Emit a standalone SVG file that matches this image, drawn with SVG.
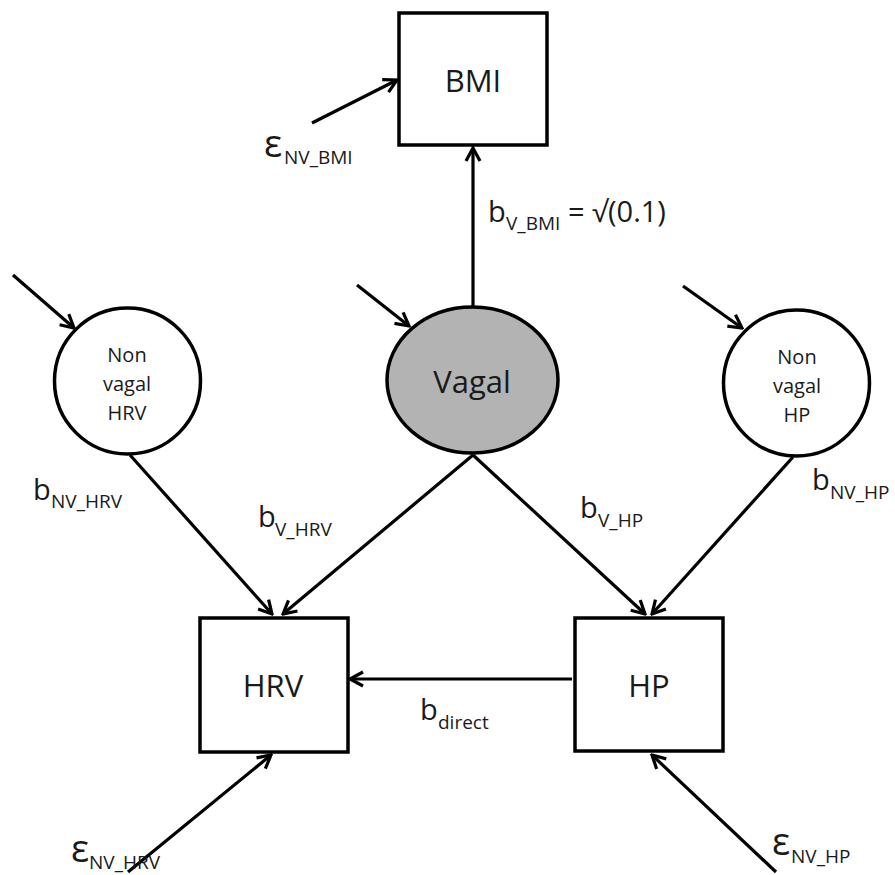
<svg xmlns="http://www.w3.org/2000/svg" width="895" height="875" viewBox="0 0 895 875">
<style>
  .box{fill:#fff;stroke:#000;stroke-width:3.5}
  .circ{fill:#fff;stroke:#000;stroke-width:3.5}
  .vag{fill:#b3b3b3;stroke:#000;stroke-width:3.5}
  .edge{stroke:#000;stroke-width:3.2;fill:none;marker-end:url(#arr)}
  text{font-family:"Open Sans","Noto Sans","Liberation Sans",sans-serif;fill:#1a1a1a}
  .big{font-size:31px}
  .sm{font-size:20px}
  .lbl{font-size:29px}
  .sub{font-size:19px}
  .eps{font-size:38px}
</style>
<defs>
  <marker id="arr" viewBox="0 0 18 18" refX="16" refY="9" markerWidth="18" markerHeight="18" markerUnits="userSpaceOnUse" orient="auto">
    <path d="M3,2 L16,9 L3,16" fill="none" stroke="#000" stroke-width="3.2"/>
  </marker>
</defs>
<g id="connectors">
  <line class="edge" x1="312" y1="123" x2="397" y2="80"/>
  <line class="edge" x1="473" y1="307" x2="473" y2="148"/>
  <line class="edge" x1="13" y1="275" x2="74" y2="328"/>
  <line class="edge" x1="357" y1="285" x2="409" y2="326"/>
  <line class="edge" x1="683" y1="286" x2="742" y2="328"/>
  <line class="edge" x1="130" y1="455" x2="272" y2="614"/>
  <line class="edge" x1="473" y1="455" x2="283" y2="614"/>
  <line class="edge" x1="473" y1="455" x2="645" y2="614"/>
  <line class="edge" x1="793" y1="457" x2="652" y2="614"/>
  <line class="edge" x1="572" y1="679" x2="350" y2="679"/>
  <line class="edge" x1="128" y1="872" x2="271" y2="755"/>
  <line class="edge" x1="776" y1="872" x2="652" y2="755"/>
</g>
<g id="BMI">
  <rect class="box" x="399" y="13" width="148" height="132"/>
  <text class="big" x="473" y="92" text-anchor="middle">BMI</text>
</g>
<g id="Vagal">
  <ellipse class="vag" cx="472.5" cy="380" rx="85.5" ry="73"/>
  <text class="big" x="472" y="393" text-anchor="middle">Vagal</text>
</g>
<g id="NonVagalHRV">
  <circle class="circ" cx="127.5" cy="381" r="73"/>
  <text class="sm" x="127" y="362" text-anchor="middle">Non</text>
  <text class="sm" x="127" y="391" text-anchor="middle">vagal</text>
  <text class="sm" x="127" y="420" text-anchor="middle">HRV</text>
</g>
<g id="NonVagalHP">
  <circle class="circ" cx="796.5" cy="383" r="73"/>
  <text class="sm" x="797" y="364" text-anchor="middle">Non</text>
  <text class="sm" x="797" y="393" text-anchor="middle">vagal</text>
  <text class="sm" x="797" y="422" text-anchor="middle">HP</text>
</g>
<g id="HRV">
  <rect class="box" x="200" y="618" width="148" height="134"/>
  <text class="big" x="273" y="697" text-anchor="middle">HRV</text>
</g>
<g id="HP">
  <rect class="box" x="575" y="618" width="148" height="133"/>
  <text class="big" x="649" y="697" text-anchor="middle">HP</text>
</g>
<g id="labels">
  <text x="264" y="157"><tspan class="eps">ε</tspan><tspan class="sub" x="284" y="164">NV_BMI</tspan></text>
  <text x="488" y="222"><tspan class="lbl">b</tspan><tspan class="sub" x="506" y="230">V_BMI</tspan><tspan class="lbl" x="568" y="222">= √(0.1)</tspan></text>
  <text x="33" y="500"><tspan class="lbl">b</tspan><tspan class="sub" x="51" y="508">NV_HRV</tspan></text>
  <text x="258" y="527"><tspan class="lbl">b</tspan><tspan class="sub" x="275" y="536">V_HRV</tspan></text>
  <text x="580" y="518"><tspan class="lbl">b</tspan><tspan class="sub" x="598" y="527">V_HP</tspan></text>
  <text x="812" y="490"><tspan class="lbl">b</tspan><tspan class="sub" x="830" y="499">NV_HP</tspan></text>
  <text x="420" y="720"><tspan class="lbl">b</tspan><tspan class="sub" x="438" y="729">direct</tspan></text>
  <text x="71" y="862"><tspan class="eps">ε</tspan><tspan class="sub" x="89" y="869">NV_HRV</tspan></text>
  <text x="772" y="855"><tspan class="eps">ε</tspan><tspan class="sub" x="791" y="863">NV_HP</tspan></text>
</g>
</svg>
